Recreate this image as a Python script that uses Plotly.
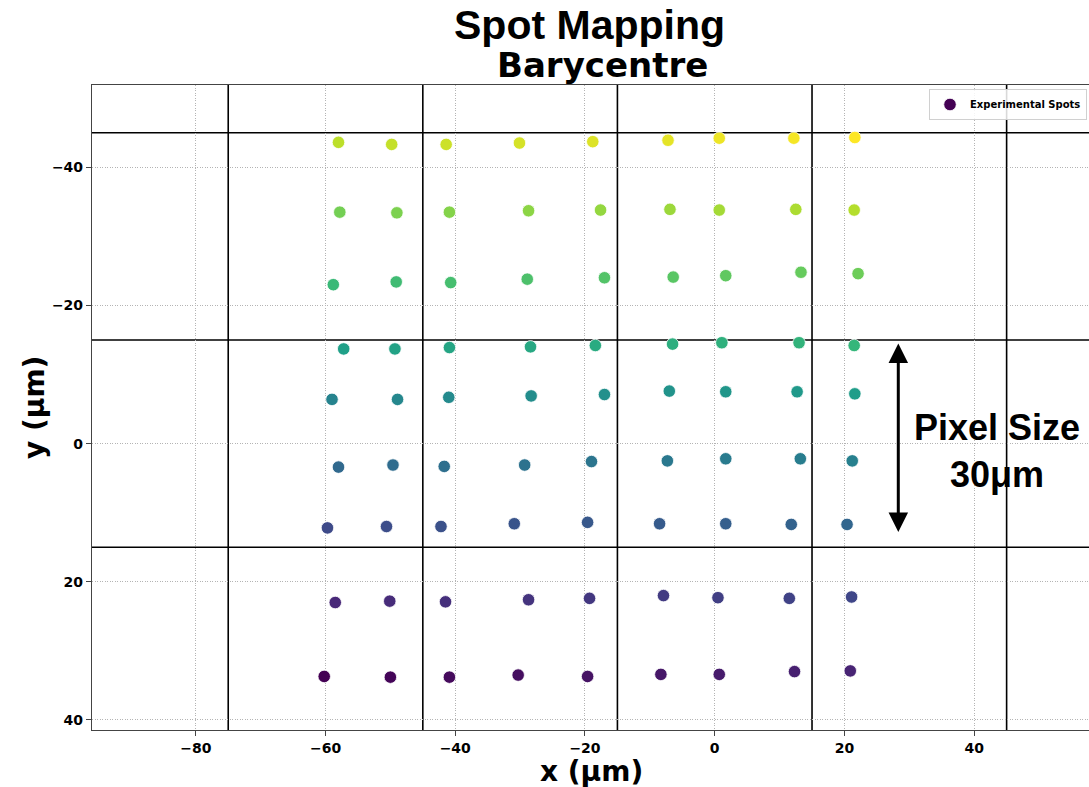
import plotly.graph_objects as go

# Barycentre positions of the spots (µm), listed row by row from the bottom-left
# spot to the top-right spot; colour follows this ordering.
spot_x = [
    -60.2, -50.0, -40.9, -30.3, -19.6, -8.3, 0.7, 12.3, 20.9,
    -58.5, -50.1, -41.5, -28.7, -19.3, -7.9, 0.5, 11.5, 21.1,
    -59.7, -50.6, -42.2, -30.9, -19.6, -8.5, 1.7, 11.8, 20.4,
    -58.0, -49.6, -41.7, -29.3, -19.0, -7.3, 1.7, 13.2, 21.2,
    -59.0, -48.9, -41.0, -28.3, -17.0, -7.0, 1.7, 12.7, 21.6,
    -57.2, -49.3, -40.9, -28.4, -18.4, -6.5, 1.1, 13.0, 21.5,
    -58.8, -49.1, -40.7, -28.9, -17.0, -6.4, 1.7, 13.3, 22.1,
    -57.8, -49.0, -40.9, -28.7, -17.6, -6.9, 0.7, 12.5, 21.5,
    -58.0, -49.8, -41.4, -30.1, -18.8, -7.2, 0.7, 12.2, 21.6,
]
spot_y = [
    33.7, 33.8, 33.8, 33.5, 33.7, 33.4, 33.4, 33.0, 32.9,
    23.0, 22.8, 22.9, 22.6, 22.4, 22.0, 22.3, 22.4, 22.2,
    12.2, 12.0, 12.0, 11.6, 11.4, 11.6, 11.6, 11.7, 11.7,
    3.4, 3.1, 3.3, 3.1, 2.6, 2.5, 2.2, 2.2, 2.5,
    -6.4, -6.4, -6.7, -6.9, -7.1, -7.6, -7.5, -7.5, -7.2,
    -13.7, -13.7, -13.9, -14.0, -14.2, -14.4, -14.6, -14.6, -14.2,
    -23.0, -23.4, -23.3, -23.8, -24.0, -24.1, -24.3, -24.8, -24.6,
    -33.5, -33.4, -33.5, -33.7, -33.8, -33.9, -33.8, -33.9, -33.8,
    -43.6, -43.3, -43.3, -43.5, -43.7, -43.9, -44.2, -44.2, -44.3,
]
spot_order = list(range(len(spot_x)))

# Detector pixel boundaries (µm)
pixel_edges_x = [-75, -45, -15, 15, 45]
pixel_edges_y = [-45, -15, 15]

# Pixel-size indicator
arrow_x = 28.3
arrow_y = [-14.5, 13.0]
label_x = 43.5
label_y = 1.0
label_text = "Pixel Size<br>30μm"

x_ticks = [-80, -60, -40, -20, 0, 20, 40]
y_ticks = [-40, -20, 0, 20, 40]
x_range = [-96.0, 57.7]
y_range = [41.45, -51.9]

W, H = 1089, 787
ML, MR, MT, MB = 92, 0, 85, 57
PW, PH = W - ML - MR, H - MT - MB


def paper_x(px):
    return (px - ML) / PW


def paper_y(py):
    return (H - MB - py) / PH


TICK_FONT = dict(family="DejaVu Sans", size=14, color="black", weight="bold")

fig = go.Figure()
fig.add_trace(go.Scatter(
    x=spot_x, y=spot_y, mode="markers", name="Experimental Spots",
    marker=dict(size=12.5, color=spot_order, colorscale="Viridis",
                line=dict(color="white", width=0.8)),
    showlegend=True,
))

shapes = []
for xv in pixel_edges_x:
    shapes.append(dict(type="line", xref="x", yref="paper", x0=xv, x1=xv, y0=0, y1=1,
                       line=dict(color="black", width=1.6), layer="between"))
for yv in pixel_edges_y:
    shapes.append(dict(type="line", xref="paper", yref="y", x0=0, x1=1, y0=yv, y1=yv,
                       line=dict(color="black", width=1.6), layer="between"))

annotations = [
    dict(x=arrow_x, y=arrow_y[0], ax=arrow_x, ay=arrow_y[1], xref="x", yref="y",
         axref="x", ayref="y", text="", showarrow=True, arrowhead=2, arrowsize=1.3,
         arrowwidth=3, arrowcolor="black", arrowside="end+start"),
    dict(x=label_x, y=label_y, xref="x", yref="y", text=label_text, showarrow=False,
         font=dict(family="Liberation Sans", size=36, color="black", weight="bold"),
         align="center", xanchor="center", yanchor="middle"),
    dict(x=paper_x(589), y=paper_y(25), xref="paper", yref="paper", text="Spot Mapping",
         showarrow=False, xanchor="center", yanchor="middle",
         font=dict(family="Liberation Sans", size=41, color="black", weight="bold")),
    dict(x=paper_x(602), y=paper_y(65), xref="paper", yref="paper", text="Barycentre",
         showarrow=False, xanchor="center", yanchor="middle",
         font=dict(family="DejaVu Sans", size=34, color="black", weight="bold")),
    dict(x=paper_x(591), y=paper_y(771), xref="paper", yref="paper", text="x (μm)",
         showarrow=False, xanchor="center", yanchor="middle",
         font=dict(family="DejaVu Sans", size=28, color="black", weight="bold")),
    dict(x=paper_x(34), y=paper_y(408), xref="paper", yref="paper", text="y (μm)",
         showarrow=False, xanchor="center", yanchor="middle", textangle=-90,
         font=dict(family="DejaVu Sans", size=28, color="black", weight="bold")),
]

axis_common = dict(
    showgrid=True, gridcolor="#b4b4b4", gridwidth=0.8, griddash="1px,1.5px",
    zeroline=False, showline=True, linecolor="#444444", linewidth=1.2,
    ticks="outside", ticklen=5, tickcolor="#444444", tickwidth=1,
    tickfont=TICK_FONT,
)

fig.update_layout(
    width=W, height=H,
    margin=dict(l=ML, r=MR, t=MT, b=MB, pad=0),
    paper_bgcolor="white", plot_bgcolor="white",
    xaxis=dict(range=x_range, tickvals=x_ticks, mirror=True, **axis_common),
    yaxis=dict(range=y_range, tickvals=y_ticks, mirror=False, **axis_common),
    shapes=shapes,
    annotations=annotations,
    legend=dict(x=paper_x(1087), y=paper_y(89), xanchor="right", yanchor="top",
                bgcolor="rgba(255,255,255,0.85)", bordercolor="#d0d0d0", borderwidth=1,
                font=dict(family="DejaVu Sans", size=10, color="black", weight="bold")),
)

fig.write_html("out.html")
